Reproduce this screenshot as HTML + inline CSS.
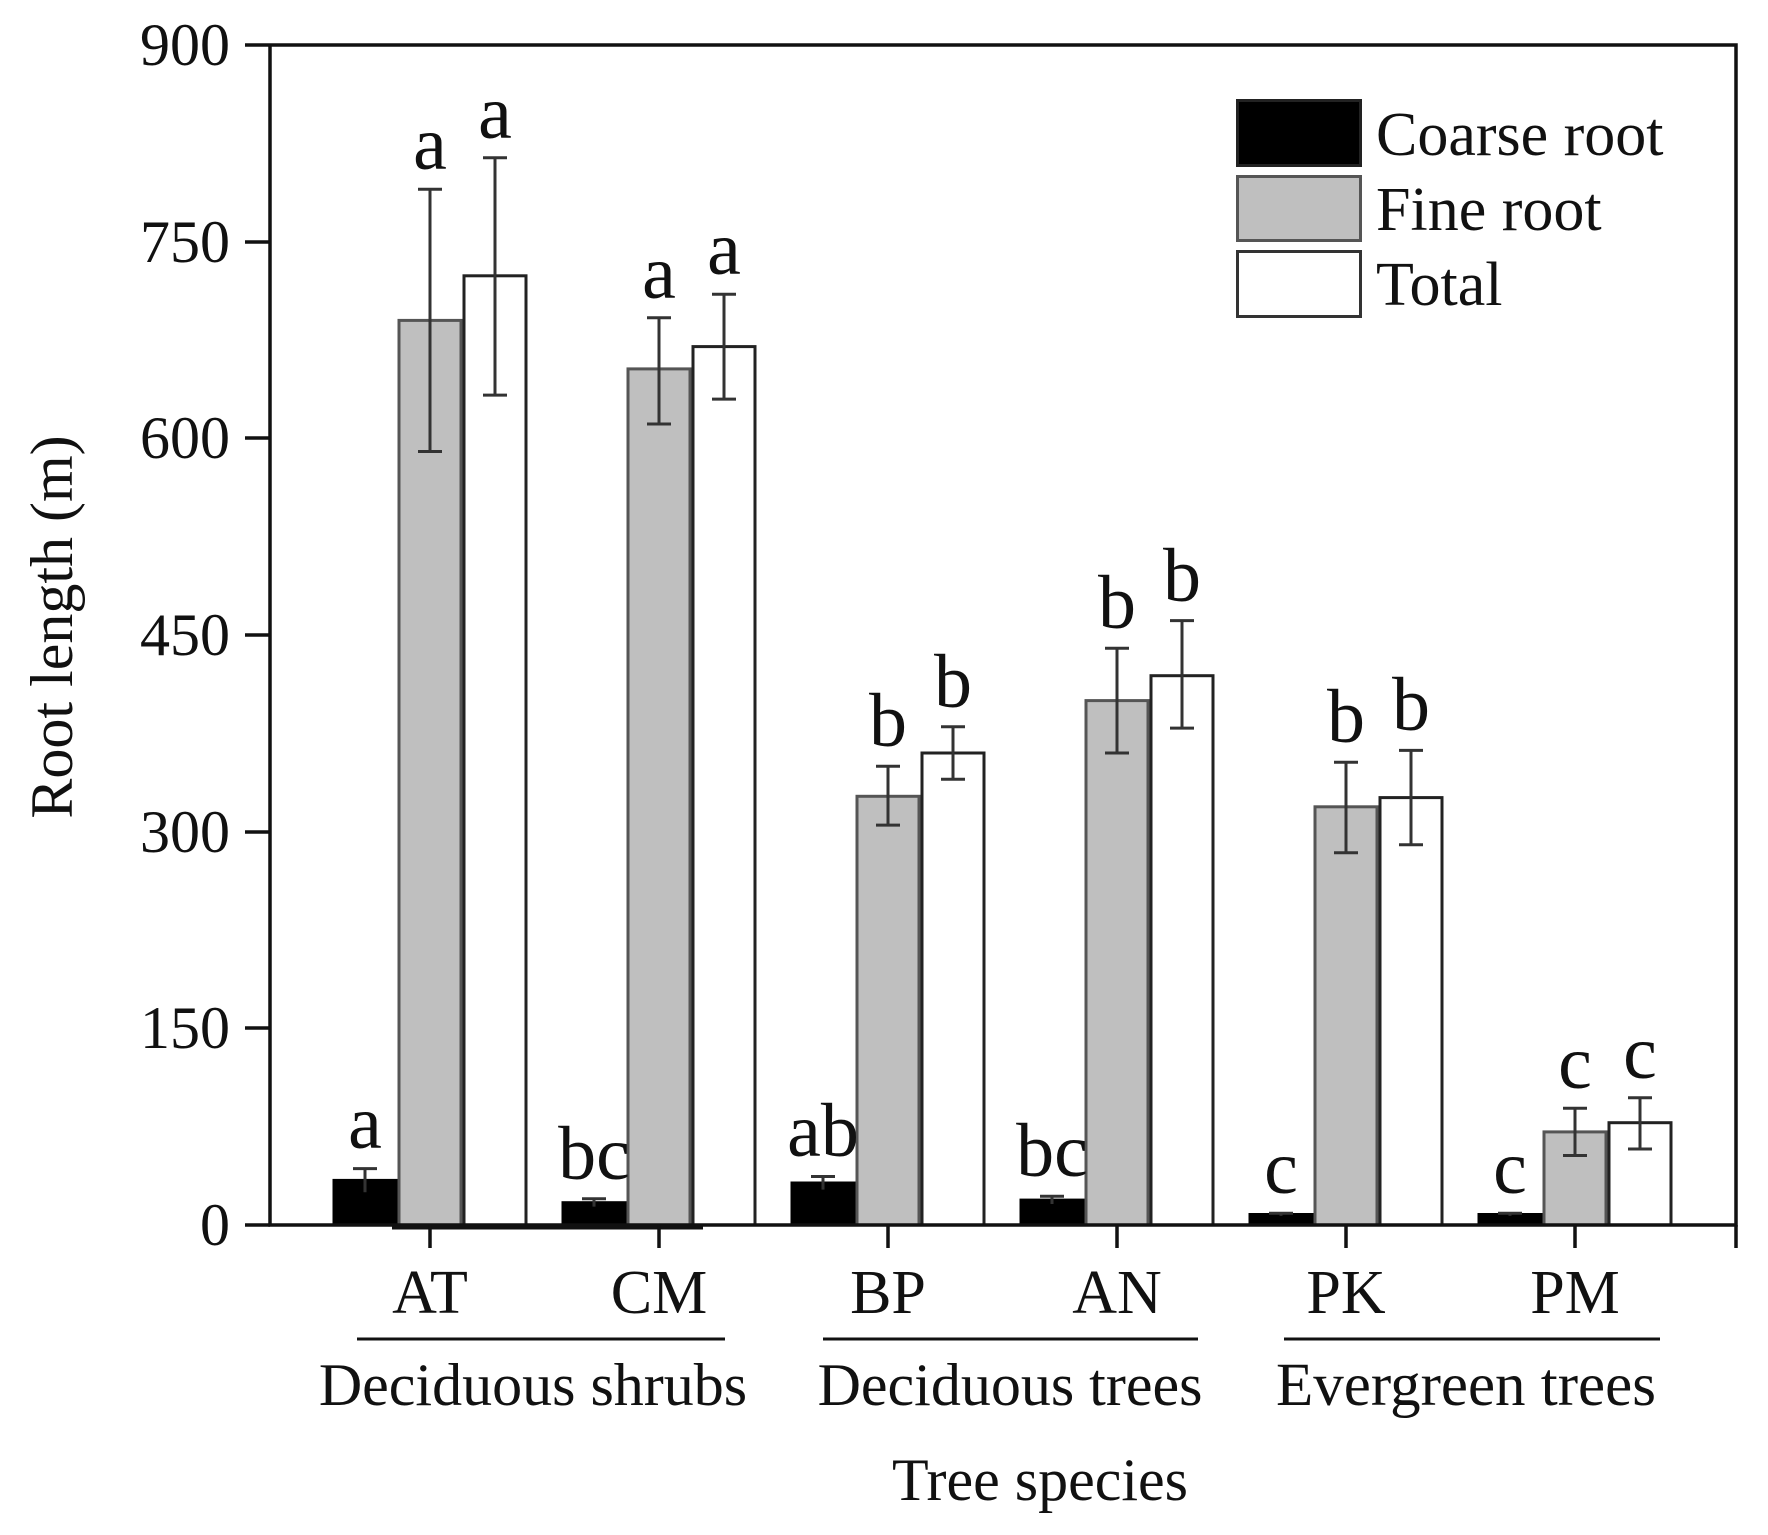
<!DOCTYPE html>
<html><head><meta charset="utf-8"><style>body{margin:0;background:#fff}svg{display:block}text{font-family:"Liberation Serif",serif;fill:#111}</style></head>
<body>
<svg width="1768" height="1535" viewBox="0 0 1768 1535" xmlns="http://www.w3.org/2000/svg">
<g stroke-width="3">
<rect x="334" y="1180.4" width="62" height="44.6" fill="#000" stroke="#000"/>
<rect x="399" y="320.4" width="62" height="904.6" fill="#bfbfbf" stroke="#555"/>
<rect x="464" y="275.8" width="62" height="949.2" fill="#fff" stroke="#222"/>
<rect x="563" y="1202.7" width="62" height="22.3" fill="#000" stroke="#000"/>
<rect x="628" y="368.9" width="62" height="856.1" fill="#bfbfbf" stroke="#555"/>
<rect x="693" y="346.6" width="62" height="878.4" fill="#fff" stroke="#222"/>
<rect x="792" y="1183" width="62" height="42" fill="#000" stroke="#000"/>
<rect x="857" y="796.3" width="62" height="428.7" fill="#bfbfbf" stroke="#555"/>
<rect x="922" y="753" width="62" height="472" fill="#fff" stroke="#222"/>
<rect x="1021" y="1200.1" width="62" height="24.9" fill="#000" stroke="#000"/>
<rect x="1086" y="700.6" width="62" height="524.4" fill="#bfbfbf" stroke="#555"/>
<rect x="1151" y="675.7" width="62" height="549.3" fill="#fff" stroke="#222"/>
<rect x="1250" y="1214.5" width="62" height="10.5" fill="#000" stroke="#000"/>
<rect x="1315" y="806.8" width="62" height="418.2" fill="#bfbfbf" stroke="#555"/>
<rect x="1380" y="797.6" width="62" height="427.4" fill="#fff" stroke="#222"/>
<rect x="1479" y="1214.5" width="62" height="10.5" fill="#000" stroke="#000"/>
<rect x="1544" y="1131.9" width="62" height="93.1" fill="#bfbfbf" stroke="#555"/>
<rect x="1609" y="1122.7" width="62" height="102.3" fill="#fff" stroke="#222"/>
</g>
<g stroke="#333" stroke-width="3" fill="none">
<path d="M365 1168.6V1192.2M353 1168.6H377"/>
<path d="M430 189.3V451.5M418 189.3H442M418 451.5H442"/>
<path d="M495 157.8V395.1M483 157.8H507M483 395.1H507"/>
<path d="M594 1198.8V1206.6M582 1198.8H606"/>
<path d="M659 317.8V424M647 317.8H671M647 424H671"/>
<path d="M724 294.2V399.1M712 294.2H736M712 399.1H736"/>
<path d="M823 1176.5V1189.6M811 1176.5H835"/>
<path d="M888 766.2V825.1M876 766.2H900M876 825.1H900"/>
<path d="M953 726.8V779.3M941 726.8H965M941 779.3H965"/>
<path d="M1052 1196.2V1204M1040 1196.2H1064"/>
<path d="M1117 648.2V753M1105 648.2H1129M1105 753H1129"/>
<path d="M1182 620.6V728.1M1170 620.6H1194M1170 728.1H1194"/>
<path d="M1281 1213.2V1215.8M1269 1213.2H1293"/>
<path d="M1346 762.2V852.7M1334 762.2H1358M1334 852.7H1358"/>
<path d="M1411 750.4V844.8M1399 750.4H1423M1399 844.8H1423"/>
<path d="M1510 1213.2V1215.8M1498 1213.2H1522"/>
<path d="M1575 1108.3V1155.5M1563 1108.3H1587M1563 1155.5H1587"/>
<path d="M1640 1097.8V1149M1628 1097.8H1652M1628 1149H1652"/>
</g>
<g font-size="76" text-anchor="middle">
<text x="365" y="1148">a</text><text x="430" y="169">a</text><text x="495" y="138">a</text>
<text x="594" y="1179">bc</text><text x="659" y="298">a</text><text x="724" y="274">a</text>
<text x="823" y="1156">ab</text><text x="888" y="746">b</text><text x="953" y="707">b</text>
<text x="1052" y="1176">bc</text><text x="1117" y="628">b</text><text x="1182" y="601">b</text>
<text x="1281" y="1193">c</text><text x="1346" y="742">b</text><text x="1411" y="730">b</text>
<text x="1510" y="1193">c</text><text x="1575" y="1088">c</text><text x="1640" y="1078">c</text>
</g>
<g stroke="#111" stroke-width="3.5" fill="none">
<path d="M270 45V1225H1736V45H270"/>
<path d="M1736 1225V1248"/>
<path d="M392 1227H703" stroke-width="5"/>
<path d="M245 45H270M245 242H270M245 438H270M245 635H270M245 832H270M245 1028H270M245 1225H270"/>
<path d="M430 1225V1248M659 1225V1248M888 1225V1248M1117 1225V1248M1346 1225V1248M1575 1225V1248"/>
<path d="M357 1339H725M823 1339H1198M1284 1339H1660" stroke-width="3"/>
</g>
<g font-size="60" text-anchor="end">
<text x="230" y="65">900</text><text x="230" y="262">750</text><text x="230" y="458">600</text><text x="230" y="655">450</text><text x="230" y="852">300</text><text x="230" y="1048">150</text><text x="230" y="1245">0</text>
</g>
<g font-size="62" text-anchor="middle">
<text x="430" y="1313">AT</text><text x="659" y="1313">CM</text><text x="888" y="1313">BP</text><text x="1117" y="1313">AN</text><text x="1346" y="1313">PK</text><text x="1575" y="1313">PM</text>
<text x="533" y="1405" font-size="60">Deciduous shrubs</text>
<text x="1010" y="1405" font-size="60">Deciduous trees</text>
<text x="1466" y="1405" font-size="61">Evergreen trees</text>
<text x="1040" y="1500" font-size="60">Tree species</text>
<text transform="translate(72,627) rotate(-90)" font-size="60">Root length (m)</text>
</g>
<rect x="1237.5" y="100.5" width="123" height="65" fill="#000" stroke="#222" stroke-width="3"/>
<rect x="1237.5" y="176.5" width="123" height="64" fill="#bfbfbf" stroke="#555" stroke-width="3"/>
<rect x="1237.5" y="251.5" width="123" height="65" fill="#fff" stroke="#333" stroke-width="3"/>
<g font-size="62"><text x="1376" y="155">Coarse root</text><text x="1376" y="230">Fine root</text><text x="1376" y="305">Total</text></g>
</svg>
</body></html>
